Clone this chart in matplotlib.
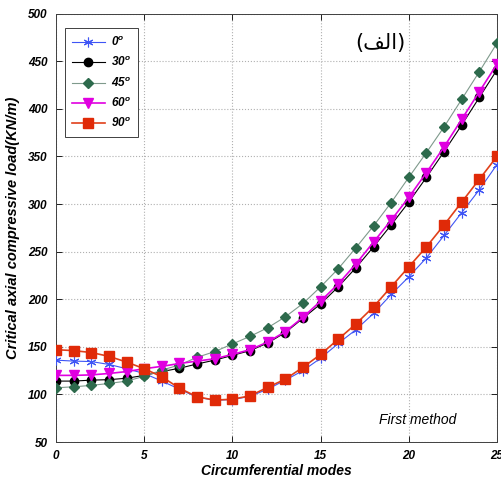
import matplotlib
matplotlib.use("Agg")
import matplotlib.pyplot as plt
import numpy as np

modes = list(range(26))
load_0 = [136, 135, 134.5, 131.5, 127, 122, 114, 105.5, 97, 94, 94.5, 98, 105.5, 115, 125, 138,
          153.5, 168, 185, 205, 223.5, 243.5, 267, 291, 315, 341.5]
load_30 = [114, 114, 115, 115.5, 117, 120, 124, 127.5, 132, 136, 141, 146, 154, 165, 180, 195,
           213, 233, 255, 278, 302, 328, 355, 383, 412, 441]
load_45 = [107, 108, 109.5, 111.5, 114, 119, 125.5, 131, 139, 145, 153, 161, 170, 181.5, 195.5, 213,
           232, 254, 277, 301.5, 328, 354, 381, 410, 439, 469]
load_60 = [120, 120, 120.5, 122, 124, 127, 129.5, 132.5, 135, 137.5, 142, 147, 155, 166, 181, 198,
           216, 237, 260, 283, 307, 333, 360, 389, 418, 447]
load_90 = [147, 146, 144, 140, 134, 127, 118.5, 106.5, 97.5, 94, 95, 98.5, 107.5, 116, 128.5, 142,
           158, 174, 192, 213, 234, 255, 278, 302, 326, 350]
labels = ['$0^o$', '$30^o$', '$45^o$', '$60^o$', '$90^o$']
x_ticks = [0, 5, 10, 15, 20, 25]
y_ticks = [50, 100, 150, 200, 250, 300, 350, 400, 450, 500]

plt.rcParams['mathtext.fontset'] = 'custom'
plt.rcParams['mathtext.rm'] = 'Liberation Sans:italic:bold'
plt.rcParams['mathtext.it'] = 'Liberation Sans:italic:bold'
plt.rcParams['mathtext.bf'] = 'Liberation Sans:italic:bold'

fig = plt.figure(figsize=(5.01, 4.79), dpi=100)
ax = fig.add_axes([0.1118, 0.0772, 0.8802, 0.8944])

ax.plot(modes, load_0, color='#3f55f5', lw=0.8, marker=(6, 2, 0), ms=7, mew=0.8,
        markeredgecolor='#3f55f5', label=labels[0], zorder=3)
ax.plot(modes, load_30, color='black', lw=0.8, marker='o', ms=6,
        markerfacecolor='black', markeredgecolor='black', label=labels[1], zorder=3)
ax.plot(modes, load_45, color='#7f9a8c', lw=0.8, marker='D', ms=5.5,
        markerfacecolor='#2d6a4c', markeredgecolor='#2d6a4c', label=labels[2], zorder=3)
ax.plot(modes, load_60, color='#e000e0', lw=1.2, marker='v', ms=7,
        markerfacecolor='#e000e0', markeredgecolor='#e000e0', label=labels[3], zorder=4)
ax.plot(modes, load_90, color='#e0401a', lw=1.2, marker='s', ms=6.5,
        markerfacecolor='#e02a08', markeredgecolor='#e02a08', label=labels[4], zorder=5)

ax.set_xlim(0, 25)
ax.set_ylim(50, 500)
ax.set_xticks(x_ticks)
ax.set_yticks(y_ticks)
ax.grid(True, linestyle=':', color='#b0b0b0', lw=0.8)
ax.tick_params(direction='in', top=True, right=True, length=4, width=0.6, pad=6, labelsize=8.5)
for lab in ax.get_xticklabels() + ax.get_yticklabels():
    lab.set_fontfamily('Liberation Sans')
    lab.set_fontweight('bold')
    lab.set_fontstyle('italic')
for sp in ax.spines.values():
    sp.set_linewidth(0.7)
    sp.set_color('#404040')

ax.set_xlabel('Circumferential modes', family='Liberation Sans', weight='bold', style='italic',
              fontsize=10, labelpad=1)
ax.set_ylabel('Critical axial compressive load(KN/m)', family='Liberation Sans', weight='bold',
              style='italic', fontsize=10.5)
ax.yaxis.set_label_coords(-0.082, 0.5)

leg = ax.legend(loc='upper left', bbox_to_anchor=(0.02, 0.966), borderaxespad=0, fontsize=8.5,
                handlelength=2.8, labelspacing=0.55, fancybox=False, framealpha=1,
                edgecolor='#404040', borderpad=0.6, handletextpad=0.5)
leg.get_frame().set_linewidth(0.7)

ax.text(20.5, 73, 'First method', family='Liberation Sans', style='italic', fontsize=10,
        ha='center', va='center')
# Arabic label written in shaped presentation forms, visual order
ax.text(18.4, 469, '(\uFED2\uFEDF\uFE8D)', family='DejaVu Sans', fontsize=15,
        ha='center', va='center')

fig.savefig('out.png', dpi=100)
